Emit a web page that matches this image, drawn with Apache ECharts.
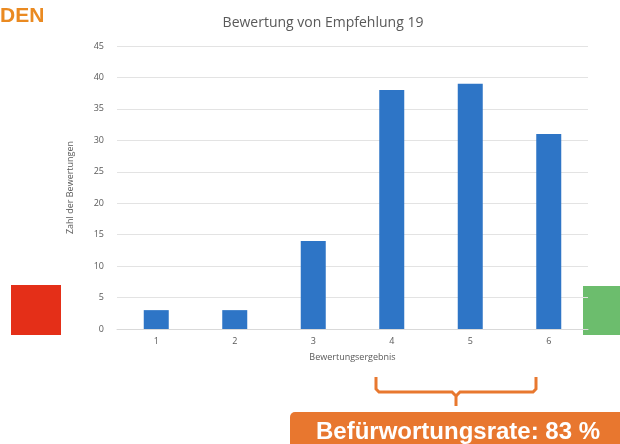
<!DOCTYPE html>
<html>
<head>
<meta charset="utf-8">
<script src="https://cdn.jsdelivr.net/npm/echarts@6/dist/echarts.min.js"></script>
<style>
  html, body { margin: 0; padding: 0; background: #ffffff; }
  #chart { width: 620px; height: 444px; }
</style>
</head>
<body>
<div id="chart"></div>
<script>
// Rating categories and number of ratings per category
const categories = ['1', '2', '3', '4', '5', '6'];
const counts = [3, 3, 14, 38, 39, 31];
const yTicks = { min: 0, max: 45, interval: 5 };

const chartTitle = 'Bewertung von Empfehlung 19';
const yAxisName = 'Zahl der Bewertungen';
const xAxisName = 'Bewertungsergebnis';
const rateText = 'Befürwortungsrate: 83 %';
const headerFragment = 'DEN';

const chart = echarts.init(document.getElementById('chart'), null, { renderer: 'canvas' });

const labelColor = '#595959';

chart.setOption({
  backgroundColor: '#ffffff',
  animation: false,
  title: {
    text: chartTitle,
    left: 318,
    top: 11,
    textAlign: 'center',
    textStyle: { color: labelColor, fontSize: 14, fontWeight: 'normal', fontFamily: 'Open Sans' }
  },
  grid: { left: 117, right: 32, top: 46, bottom: 115 },
  xAxis: {
    type: 'category',
    data: categories,
    name: xAxisName,
    nameLocation: 'middle',
    nameGap: 24,
    nameTextStyle: { color: labelColor, fontSize: 9, fontFamily: 'Open Sans' },
    axisLine: { lineStyle: { color: '#d9d9d9' } },
    axisTick: { show: false },
    axisLabel: { color: labelColor, fontSize: 9, margin: 8, fontFamily: 'Open Sans' }
  },
  yAxis: {
    type: 'value',
    min: yTicks.min,
    max: yTicks.max,
    interval: yTicks.interval,
    name: yAxisName,
    nameLocation: 'middle',
    nameGap: 42,
    nameTextStyle: { color: labelColor, fontSize: 9, fontFamily: 'Open Sans' },
    axisLine: { show: false },
    axisTick: { show: false },
    axisLabel: { color: labelColor, fontSize: 9, margin: 13, fontFamily: 'Open Sans' },
    splitLine: { lineStyle: { color: '#e3e3e3', width: 1 } }
  },
  series: [{
    type: 'bar',
    data: counts,
    barWidth: 25,
    itemStyle: { color: '#2E75C6' }
  }],
  graphic: [
    {
      type: 'text', left: 0, top: 6,
      style: { text: headerFragment, fill: '#EA8A21', fontSize: 21, fontWeight: 'bold', fontFamily: 'Liberation Sans' }
    },
    {
      type: 'rect', shape: { x: 11, y: 285, width: 50, height: 50 },
      style: { fill: '#E42F18' }
    },
    {
      type: 'rect', shape: { x: 583, y: 286, width: 40, height: 49 },
      style: { fill: '#6CBD6D' }
    },
    {
      type: 'polyline',
      shape: { points: [[376, 377], [376, 389], [379, 392], [452, 392], [456, 396], [456, 406]] },
      style: { stroke: '#E8782F', lineWidth: 3, fill: null }
    },
    {
      type: 'polyline',
      shape: { points: [[536, 377], [536, 389], [533, 392], [460, 392], [456, 396]] },
      style: { stroke: '#E8782F', lineWidth: 3, fill: null }
    },
    {
      type: 'rect', shape: { x: 290, y: 412, width: 340, height: 40, r: 5 },
      style: { fill: '#E8772F' }
    },
    {
      type: 'text', x: 458, y: 432,
      style: {
        text: rateText, fill: '#ffffff', fontSize: 24, fontWeight: 'bold',
        fontFamily: 'Liberation Sans', align: 'center', verticalAlign: 'middle'
      }
    }
  ]
});
</script>
</body>
</html>
